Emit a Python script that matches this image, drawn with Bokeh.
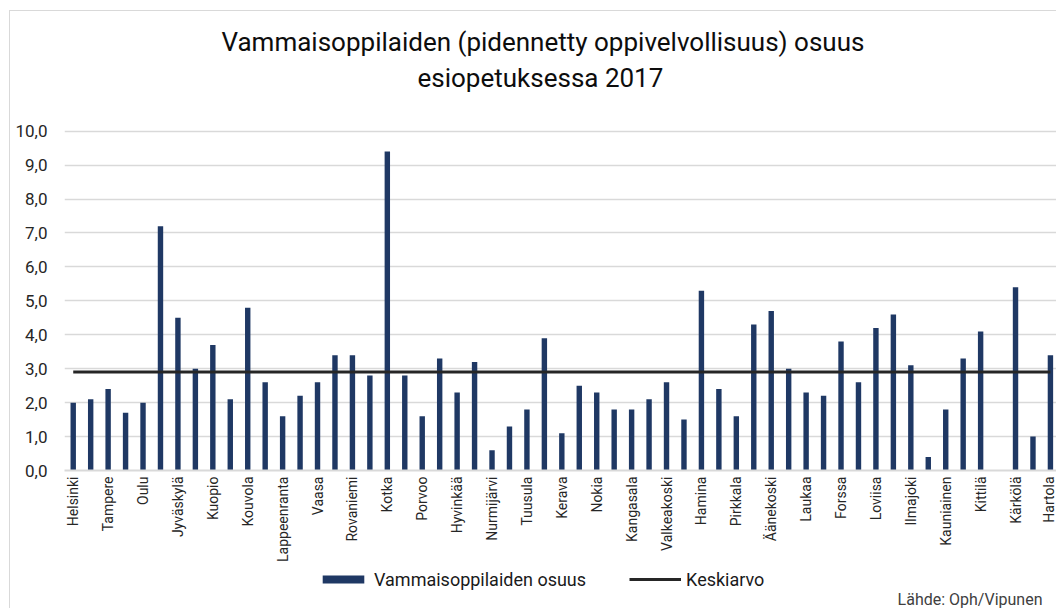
import math
from bokeh.plotting import figure
from bokeh.layouts import column
from bokeh.models import (Range1d, FixedTicker, CustomJSTickFormatter, Legend, LegendItem,
                          Title, Label, ColumnDataSource)
from bokeh.embed import file_html
from bokeh.resources import INLINE

# ---------------- data ----------------
title_lines = ["Vammaisoppilaiden (pidennetty oppivelvollisuus) osuus", "esiopetuksessa 2017"]
# every second municipality is labelled on the axis
tick_labels = ["Helsinki", "Tampere", "Oulu", "Jyväskylä", "Kuopio", "Kouvola", "Lappeenranta",
               "Vaasa", "Rovaniemi", "Kotka", "Porvoo", "Hyvinkää", "Nurmijärvi", "Tuusula",
               "Kerava", "Nokia", "Kangasala", "Valkeakoski", "Hamina", "Pirkkala", "Äänekoski",
               "Laukaa", "Forssa", "Loviisa", "Ilmajoki", "Kauniainen", "Kittilä", "Kärkölä",
               "Hartola"]
share_values = [2.0, 2.1, 2.4, 1.7, 2.0, 7.2, 4.5, 3.0, 3.7, 2.1, 4.8, 2.6, 1.6, 2.2, 2.6, 3.4,
                3.4, 2.8, 9.4, 2.8, 1.6, 3.3, 2.3, 3.2, 0.6, 1.3, 1.8, 3.9, 1.1, 2.5, 2.3, 1.8,
                1.8, 2.1, 2.6, 1.5, 5.3, 2.4, 1.6, 4.3, 4.7, 3.0, 2.3, 2.2, 3.8, 2.6, 4.2, 4.6,
                3.1, 0.4, 1.8, 3.3, 4.1, float("nan"), 5.4, 1.0, 3.4]
average_value = 2.9
series_names = ["Vammaisoppilaiden osuus", "Keskiarvo"]
y_ticks = [0, 1, 2, 3, 4, 5, 6, 7, 8, 9, 10]
source_text = "Lähde: Oph/Vipunen"

# ---------------- layout ----------------
W, H = 1056, 608
MAIN_H = 566
FOOT_H = H - MAIN_H                 # strip under the chart for legend + source
FRAME_L, FRAME_B = 64, 470
Y10_PX = 130.7                      # pixel row of the 10,0 gridline
FRAME_T = 94                        # frame top (white space above the 10,0 line)
STEP = 17.45                        # px per category
FONT = "Roboto"
BAR_COLOR = "#1f3864"
AVG_COLOR = "#262626"
BORDER = "#d9d9d9"

n = len(share_values)
x_idx = list(range(n))
x_end = -0.5 + (W - FRAME_L) / STEP
y_end = 10 * (FRAME_B - FRAME_T) / (FRAME_B - Y10_PX)

p = figure(width=W, height=MAIN_H, output_backend="svg", toolbar_location=None,
           x_range=Range1d(-0.5, x_end), y_range=Range1d(0, y_end),
           min_border_left=FRAME_L, min_border_right=0,
           min_border_top=FRAME_T, min_border_bottom=MAIN_H - FRAME_B)
p.styles = {"background": f"linear-gradient({BORDER},{BORDER}) 9px 10px / 1px 100% no-repeat, "
                          f"linear-gradient({BORDER},{BORDER}) 9px 10px / 100% 1px no-repeat, white"}
p.outline_line_color = None
p.background_fill_color = "white"
p.border_fill_color = None

# grid
p.xgrid.grid_line_color = None
p.ygrid.grid_line_color = BORDER
p.ygrid.grid_line_width = 1.3
p.ygrid.ticker = FixedTicker(ticks=y_ticks)

# y axis
p.yaxis.ticker = FixedTicker(ticks=y_ticks)
p.yaxis.formatter = CustomJSTickFormatter(code="return tick.toFixed(1).replace('.', ',');")
p.yaxis.axis_line_color = None
p.yaxis.major_tick_line_color = None
p.yaxis.minor_tick_line_color = None
p.yaxis.major_tick_out = 0
p.yaxis.minor_tick_out = 0
p.yaxis.major_label_standoff = 17
p.yaxis.major_label_text_font = FONT
p.yaxis.major_label_text_font_size = "17px"
p.yaxis.major_label_text_color = "#262626"

# x axis
tick_pos = x_idx[::2]
p.xaxis.ticker = FixedTicker(ticks=tick_pos)
p.xaxis.major_label_overrides = {pos: lab for pos, lab in zip(tick_pos, tick_labels)}
p.xaxis.major_label_orientation = math.pi / 2
p.xaxis.axis_line_color = BORDER
p.xaxis.axis_line_width = 2
p.xaxis.major_tick_line_color = None
p.xaxis.minor_tick_line_color = None
p.xaxis.major_tick_out = 0
p.xaxis.minor_tick_out = 0
p.xaxis.major_label_standoff = 6
p.xaxis.major_label_text_font = FONT
p.xaxis.major_label_text_font_size = "14px"
p.xaxis.major_label_text_color = "#262626"

src = ColumnDataSource(dict(x=x_idx, top=share_values))
p.vbar(x="x", top="top", bottom=0, width=0.31, source=src, fill_color=BAR_COLOR, line_color=None)
p.line(x=[x_idx[0], x_idx[-1]], y=[average_value, average_value],
       line_color=AVG_COLOR, line_width=3)

# title: two lines, added from the plot outward
TITLE_SIZE = "26px"
p.add_layout(Title(text=title_lines[1], align="left", offset=417 - FRAME_L, standoff=4,
                   text_font=FONT, text_font_size=TITLE_SIZE, text_font_style="normal",
                   text_color="#0d0d0d"), "above")
p.add_layout(Title(text=title_lines[0], align="left", offset=221 - FRAME_L, standoff=3,
                   text_font=FONT, text_font_size=TITLE_SIZE, text_font_style="normal",
                   text_color="#0d0d0d"), "above")

# ---------------- footer strip: legend + source ----------------
# its frame starts at the same x as the chart, x data == page pixels
q = figure(width=W, height=FOOT_H, output_backend="svg", toolbar_location=None,
           x_range=Range1d(FRAME_L, W), y_range=Range1d(FOOT_H, 0),
           min_border_left=FRAME_L, min_border_right=0, min_border_top=0, min_border_bottom=0,
           x_axis_location=None, y_axis_location=None)
q.styles = {"background": f"linear-gradient({BORDER},{BORDER}) 9px 0px / 1px 100% no-repeat, white"}
q.grid.visible = False
q.outline_line_color = None
q.background_fill_color = None
q.border_fill_color = None

# legend-only renderers: one zero-height sample left of the visible range
leg_src = ColumnDataSource(dict(x=[0, 0], y=[0, 0]))
leg_bar = q.vbar(x="x", top="y", bottom=0, width=1, source=leg_src,
                 fill_color=BAR_COLOR, line_color=None)
leg_line = q.line(x="x", y="y", source=leg_src, line_color=AVG_COLOR, line_width=3)

LEG_H = 22
leg_center = 579 - MAIN_H
legend = Legend(items=[LegendItem(label=series_names[0], renderers=[leg_bar]),
                       LegendItem(label=series_names[1], renderers=[leg_line])],
                orientation="horizontal",
                location=(317 - FRAME_L, FOOT_H - (leg_center + LEG_H // 2)),
                glyph_width=52, glyph_height=10, label_height=LEG_H, label_standoff=5,
                spacing=43, padding=0, margin=0, border_line_color=None,
                background_fill_alpha=0, label_text_font=FONT, label_text_font_size="18px",
                label_text_color="#1a1a1a")
q.add_layout(legend)

q.add_layout(Label(x=1042, y=599 - MAIN_H, text=source_text, text_align="right",
                   text_baseline="middle", text_font=FONT, text_font_size="16px",
                   text_color="#404040"))

open("out.html", "w").write(file_html(column(p, q, spacing=0), INLINE))
